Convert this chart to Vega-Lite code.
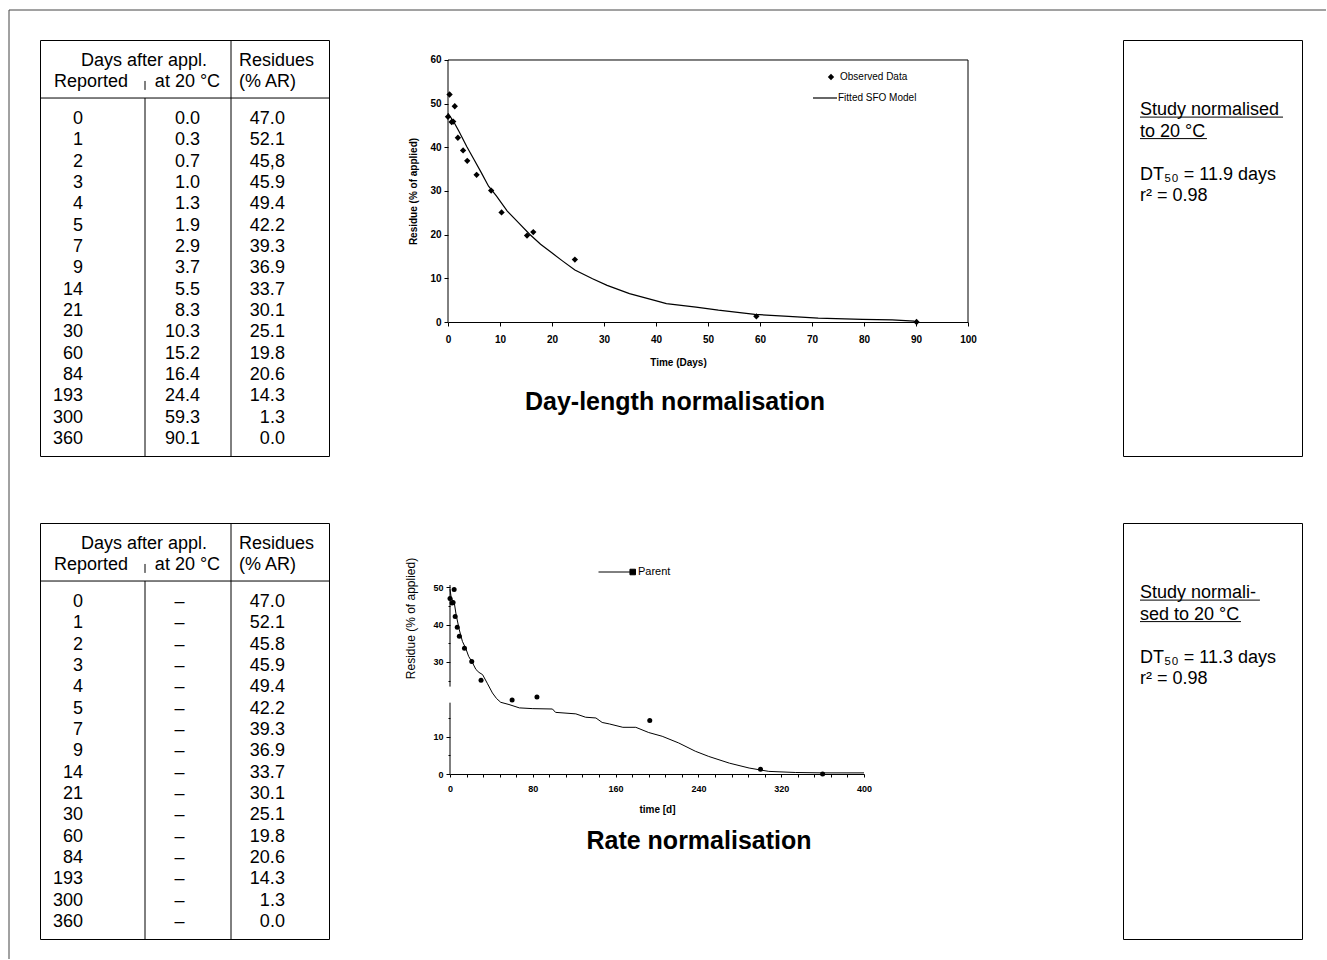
{
"$schema": "https://vega.github.io/schema/vega-lite/v6.json",
"padding": {"left": 8, "top": 9, "right": 0, "bottom": 0},
"background": "white",
"datasets": {
"table1": [
{"row":0,"rep":"0","t20":"0.0","res":"47.0"},
{"row":1,"rep":"1","t20":"0.3","res":"52.1"},
{"row":2,"rep":"2","t20":"0.7","res":"45,8"},
{"row":3,"rep":"3","t20":"1.0","res":"45.9"},
{"row":4,"rep":"4","t20":"1.3","res":"49.4"},
{"row":5,"rep":"5","t20":"1.9","res":"42.2"},
{"row":6,"rep":"7","t20":"2.9","res":"39.3"},
{"row":7,"rep":"9","t20":"3.7","res":"36.9"},
{"row":8,"rep":"14","t20":"5.5","res":"33.7"},
{"row":9,"rep":"21","t20":"8.3","res":"30.1"},
{"row":10,"rep":"30","t20":"10.3","res":"25.1"},
{"row":11,"rep":"60","t20":"15.2","res":"19.8"},
{"row":12,"rep":"84","t20":"16.4","res":"20.6"},
{"row":13,"rep":"193","t20":"24.4","res":"14.3"},
{"row":14,"rep":"300","t20":"59.3","res":"1.3"},
{"row":15,"rep":"360","t20":"90.1","res":"0.0"}
],
"table2": [
{"row":0,"rep":"0","t20":"–","res":"47.0"},
{"row":1,"rep":"1","t20":"–","res":"52.1"},
{"row":2,"rep":"2","t20":"–","res":"45.8"},
{"row":3,"rep":"3","t20":"–","res":"45.9"},
{"row":4,"rep":"4","t20":"–","res":"49.4"},
{"row":5,"rep":"5","t20":"–","res":"42.2"},
{"row":6,"rep":"7","t20":"–","res":"39.3"},
{"row":7,"rep":"9","t20":"–","res":"36.9"},
{"row":8,"rep":"14","t20":"–","res":"33.7"},
{"row":9,"rep":"21","t20":"–","res":"30.1"},
{"row":10,"rep":"30","t20":"–","res":"25.1"},
{"row":11,"rep":"60","t20":"–","res":"19.8"},
{"row":12,"rep":"84","t20":"–","res":"20.6"},
{"row":13,"rep":"193","t20":"–","res":"14.3"},
{"row":14,"rep":"300","t20":"–","res":"1.3"},
{"row":15,"rep":"360","t20":"–","res":"0.0"}
],
"obs1": [
{"t":0.0,"r":47.0},{"t":0.3,"r":52.1},{"t":0.7,"r":45.8},{"t":1.0,"r":45.9},{"t":1.3,"r":49.4},{"t":1.9,"r":42.2},{"t":2.9,"r":39.3},{"t":3.7,"r":36.9},{"t":5.5,"r":33.7},{"t":8.3,"r":30.1},{"t":10.3,"r":25.1},{"t":15.2,"r":19.8},{"t":16.4,"r":20.6},{"t":24.4,"r":14.3},{"t":59.3,"r":1.3},{"t":90.1,"r":0.0}
],
"fit1": [
{"t":0,"r":47.8},{"t":1.07,"r":45.9},{"t":2.1,"r":43.7},{"t":3.6,"r":40.2},{"t":5,"r":37.2},{"t":6.4,"r":34.2},{"t":7.8,"r":31.1},{"t":9.3,"r":28.9},{"t":11.4,"r":25.4},{"t":13.5,"r":22.8},{"t":15.7,"r":20.1},{"t":17.8,"r":17.8},{"t":19.9,"r":15.9},{"t":22,"r":14},{"t":24.4,"r":11.9},{"t":27.8,"r":9.9},{"t":30.6,"r":8.4},{"t":34.9,"r":6.5},{"t":39.9,"r":4.9},{"t":42,"r":4.2},{"t":47.7,"r":3.4},{"t":52,"r":2.7},{"t":59,"r":1.75},{"t":65.5,"r":1.3},{"t":71.2,"r":0.9},{"t":79.7,"r":0.6},{"t":85.4,"r":0.5},{"t":89.7,"r":0.2}
],
"obs2": [
{"t":0,"r":47.0},{"t":1,"r":52.1},{"t":2,"r":45.8},{"t":3,"r":45.9},{"t":4,"r":49.4},{"t":5,"r":42.2},{"t":7,"r":39.3},{"t":9,"r":36.9},{"t":14,"r":33.7},{"t":21,"r":30.1},{"t":30,"r":25.1},{"t":60,"r":19.8},{"t":84,"r":20.6},{"t":193,"r":14.3},{"t":300,"r":1.3},{"t":360,"r":0.0}
],
"fit2": [
{"t":0,"r":49.5},{"t":1,"r":47.5},{"t":2,"r":46.8},{"t":4.2,"r":45.7},{"t":6,"r":42.5},{"t":9,"r":38.6},{"t":12,"r":35.5},{"t":15.4,"r":33.5},{"t":18,"r":31.5},{"t":21.9,"r":29.7},{"t":25,"r":28},{"t":28,"r":27.2},{"t":31.5,"r":26.6},{"t":36,"r":24.3},{"t":41,"r":21.7},{"t":45,"r":20.2},{"t":49,"r":19.2},{"t":57,"r":18.6},{"t":67,"r":17.7},{"t":80,"r":17.5},{"t":99,"r":17.4},{"t":102,"r":16.5},{"t":121.6,"r":16.1},{"t":131,"r":15.2},{"t":141,"r":15},{"t":147,"r":13.8},{"t":154,"r":13.4},{"t":167,"r":12.5},{"t":179.5,"r":12.5},{"t":192,"r":11.1},{"t":205,"r":10.1},{"t":221,"r":8.3},{"t":237,"r":6.1},{"t":250,"r":4.7},{"t":270,"r":2.9},{"t":289,"r":1.6},{"t":308,"r":0.7},{"t":334,"r":0.4},{"t":360,"r":0.3},{"t":400,"r":0.3}
],
"box1": [{"line":0,"text":"Study normalised"},{"line":1,"text":"to 20 °C"},{"line":3,"text":"DT₅₀ = 11.9 days"},{"line":4,"text":"r² = 0.98"}],
"box2": [{"line":0,"text":"Study normali-"},{"line":1,"text":"sed to 20 °C"},{"line":3,"text":"DT₅₀ = 11.3 days"},{"line":4,"text":"r² = 0.98"}]
},
"bounds": "flush",
"spacing": -1,
"resolve": {"scale": {"color": "independent", "shape": "independent"}, "legend": {"color": "independent", "shape": "independent"}},
"vconcat": [
{"width": 1, "height": 1,
 "layer": [
 {"data":{"values":[{}]},"mark":{"type":"rule","color":"#444","strokeWidth":1},"encoding":{"x":{"datum":-31,"type":"quantitative","scale":{"type":"linear","domain":[0,1],"range":[0,1],"nice":false,"zero":false},"axis":null},"x2":{"datum":1286},"y":{"datum":-29,"type":"quantitative","scale":{"type":"linear","domain":[0,1],"range":[0,1],"nice":false,"zero":false},"axis":null}}},
 {"data":{"values":[{}]},"mark":{"type":"rule","color":"#444","strokeWidth":1},"encoding":{"x":{"datum":-31,"type":"quantitative"},"y":{"datum":-29,"type":"quantitative"},"y2":{"datum":920}}}
 ]},
{"resolve": {"scale": {"color": "independent", "shape": "independent"}, "legend": {"color": "independent", "shape": "independent"}},
 "spacing": 65,
 "vconcat": [
{"resolve": {"scale": {"color": "independent", "shape": "independent"}, "legend": {"color": "independent", "shape": "independent"}},
 "hconcat": [
{"width": 289, "height": 416, "view": {"stroke": "black", "strokeWidth": 1},
 "layer": [
 {"data":{"name":"table1"},"mark":{"type":"text","align":"right","baseline":"middle","fontSize":18},"encoding":{"x":{"datum":0.41,"type":"quantitative","scale":{"type":"linear","domain":[0,1,2,3],"range":[0,105,191,289],"nice":false,"zero":false},"axis":null},"y":{"field":"row","type":"quantitative","scale":{"type":"linear","domain":[-3.70,15.80],"range":[0,416],"nice":false,"zero":false},"axis":null},"text":{"field":"rep"}}},
 {"data":{"name":"table1"},"mark":{"type":"text","align":"right","baseline":"middle","fontSize":18},"encoding":{"x":{"datum":1.64,"type":"quantitative"},"y":{"field":"row","type":"quantitative"},"text":{"field":"t20"}}},
 {"data":{"name":"table1"},"mark":{"type":"text","align":"right","baseline":"middle","fontSize":18},"encoding":{"x":{"datum":2.55,"type":"quantitative"},"y":{"field":"row","type":"quantitative"},"text":{"field":"res"}}},
 {"data":{"values":[{}]},"mark":{"type":"text","text":"Days after appl.","align":"center","baseline":"middle","fontSize":18},"encoding":{"x":{"datum":0.99,"type":"quantitative"},"y":{"datum":-2.72,"type":"quantitative"}}},
 {"data":{"values":[{}]},"mark":{"type":"text","text":"Reported","align":"center","baseline":"middle","fontSize":18},"encoding":{"x":{"datum":0.486,"type":"quantitative"},"y":{"datum":-1.73,"type":"quantitative"}}},
 {"data":{"values":[{}]},"mark":{"type":"text","text":"at 20 °C","align":"center","baseline":"middle","fontSize":18},"encoding":{"x":{"datum":1.494,"type":"quantitative"},"y":{"datum":-1.73,"type":"quantitative"}}},
 {"data":{"values":[{}]},"mark":{"type":"text","text":"Residues","align":"left","baseline":"middle","fontSize":18},"encoding":{"x":{"datum":2.082,"type":"quantitative"},"y":{"datum":-2.72,"type":"quantitative"}}},
 {"data":{"values":[{}]},"mark":{"type":"text","text":"(% AR)","align":"left","baseline":"middle","fontSize":18},"encoding":{"x":{"datum":2.082,"type":"quantitative"},"y":{"datum":-1.73,"type":"quantitative"}}},
 {"data":{"values":[{}]},"mark":{"type":"rule","color":"black"},"encoding":{"x":{"datum":0,"type":"quantitative"},"x2":{"datum":3},"y":{"datum":-0.98,"type":"quantitative"}}},
 {"data":{"values":[{}]},"mark":{"type":"rule","color":"black"},"encoding":{"x":{"datum":1,"type":"quantitative"},"y":{"datum":-0.98,"type":"quantitative"},"y2":{"datum":15.80}}},
 {"data":{"values":[{}]},"mark":{"type":"rule","color":"black"},"encoding":{"x":{"datum":2,"type":"quantitative"},"y":{"datum":-3.70,"type":"quantitative"},"y2":{"datum":15.80}}},
 {"data":{"values":[{}]},"mark":{"type":"rule","color":"black"},"encoding":{"x":{"datum":1,"type":"quantitative"},"y":{"datum":-1.78,"type":"quantitative"},"y2":{"datum":-1.36}}}
 ]},
{"resolve": {"scale": {"color": "independent", "shape": "independent"}, "legend": {"color": "independent", "shape": "independent"}},
 "hconcat": [
 {"width": 520, "height": 282,
  "title": {"text":"Day-length normalisation","orient":"bottom","anchor":"middle","fontSize":25,"fontWeight":"bold","dx":-33,"offset":23,"color":"black"},
  "layer": [
  {"data":{"name":"fit1"},"mark":{"type":"line","color":"black","strokeWidth":1.2},
   "encoding":{
    "x":{"field":"t","type":"quantitative","title":"Time (Days)","scale":{"domain":[0,100],"nice":false},
         "axis":{"values":[0,10,20,30,40,50,60,70,80,90,100],"tickCount":100,"format":"d","tickSize":4,"labelFontSize":10,"labelFontWeight":"bold","labelPadding":8,"titleFontSize":10,"titleFontWeight":"bold","titleX":230,"titleY":40,"titleBaseline":"middle","labelFlush":false,"labelOverlap":false}},
    "y":{"field":"r","type":"quantitative","title":"Residue (% of applied)","scale":{"domain":[0,64.58],"nice":false,"zero":true},
         "axis":{"values":[0,10,20,30,40,50,60],"tickCount":100,"format":"d","domain":false,"tickSize":4,"labelFontSize":10,"labelFontWeight":"bold","labelPadding":3,"titleFontSize":10,"titleFontWeight":"bold","titleX":-35,"titleY":151,"titleBaseline":"middle","labelOverlap":false}},
    "color":{"datum":"Fitted SFO Model","type":"nominal","scale":{"range":["black"]},
         "legend":{"orient":"none","legendX":364,"legendY":45,"title":null,"symbolType":"stroke","symbolSize":576,"symbolStrokeWidth":1.2,"symbolStrokeColor":"black","labelFontSize":10,"labelOffset":0,"labelColor":"black"}}
   }},
  {"data":{"name":"obs1"},"mark":{"type":"point","filled":true,"color":"black","size":40,"opacity":1},
   "encoding":{
    "x":{"field":"t","type":"quantitative","title":"Time (Days)"},
    "y":{"field":"r","type":"quantitative","title":"Residue (% of applied)"},
    "shape":{"datum":"Observed Data","type":"nominal","scale":{"range":["diamond"]},
         "legend":{"orient":"none","legendX":378,"legendY":32,"title":null,"symbolSize":40,"symbolFillColor":"black","symbolStrokeColor":"black","labelFontSize":10,"labelOffset":4,"labelColor":"black"}}
   }},
  {"data":{"values":[{}]},"mark":{"type":"rule","color":"black"},"encoding":{"x":{"datum":0,"type":"quantitative"},"x2":{"datum":100},"y":{"datum":60,"type":"quantitative"}}},
  {"data":{"values":[{}]},"mark":{"type":"rule","color":"black"},"encoding":{"x":{"datum":100,"type":"quantitative"},"y":{"datum":0,"type":"quantitative"},"y2":{"datum":60}}},
  {"data":{"values":[{}]},"mark":{"type":"rule","color":"black"},"encoding":{"x":{"datum":0,"type":"quantitative"},"y":{"datum":0,"type":"quantitative"},"y2":{"datum":60}}}
  ]},
 {"width": 179, "height": 416, "view": {"stroke": "black", "strokeWidth": 1},
  "layer": [
  {"data":{"name":"box1"},"mark":{"type":"text","align":"left","baseline":"middle","fontSize":18},"encoding":{"x":{"datum":0.95,"type":"quantitative","scale":{"type":"linear","domain":[0,10],"range":[0,179],"nice":false,"zero":false},"axis":null},"y":{"field":"line","type":"quantitative","scale":{"type":"linear","domain":[-3.256,16.093],"range":[0,416],"nice":false,"zero":false},"axis":null},"text":{"field":"text"}}},
  {"data":{"values":[{}]},"mark":{"type":"rule","color":"black"},"encoding":{"x":{"datum":0.95,"type":"quantitative"},"x2":{"datum":8.94},"y":{"datum":0.33,"type":"quantitative"}}},
  {"data":{"values":[{}]},"mark":{"type":"rule","color":"black"},"encoding":{"x":{"datum":0.95,"type":"quantitative"},"x2":{"datum":4.69},"y":{"datum":1.33,"type":"quantitative"}}}
  ]}
 ], "spacing": 145}
], "spacing": 78},
{"resolve": {"scale": {"color": "independent", "shape": "independent"}, "legend": {"color": "independent", "shape": "independent"}},
 "hconcat": [
{"width": 289, "height": 416, "view": {"stroke": "black", "strokeWidth": 1},
 "layer": [
 {"data":{"name":"table2"},"mark":{"type":"text","align":"right","baseline":"middle","fontSize":18},"encoding":{"x":{"datum":0.41,"type":"quantitative","scale":{"type":"linear","domain":[0,1,2,3],"range":[0,105,191,289],"nice":false,"zero":false},"axis":null},"y":{"field":"row","type":"quantitative","scale":{"type":"linear","domain":[-3.70,15.80],"range":[0,416],"nice":false,"zero":false},"axis":null},"text":{"field":"rep"}}},
 {"data":{"name":"table2"},"mark":{"type":"text","align":"center","baseline":"middle","fontSize":18},"encoding":{"x":{"datum":1.40,"type":"quantitative"},"y":{"field":"row","type":"quantitative"},"text":{"field":"t20"}}},
 {"data":{"name":"table2"},"mark":{"type":"text","align":"right","baseline":"middle","fontSize":18},"encoding":{"x":{"datum":2.55,"type":"quantitative"},"y":{"field":"row","type":"quantitative"},"text":{"field":"res"}}},
 {"data":{"values":[{}]},"mark":{"type":"text","text":"Days after appl.","align":"center","baseline":"middle","fontSize":18},"encoding":{"x":{"datum":0.99,"type":"quantitative"},"y":{"datum":-2.72,"type":"quantitative"}}},
 {"data":{"values":[{}]},"mark":{"type":"text","text":"Reported","align":"center","baseline":"middle","fontSize":18},"encoding":{"x":{"datum":0.486,"type":"quantitative"},"y":{"datum":-1.73,"type":"quantitative"}}},
 {"data":{"values":[{}]},"mark":{"type":"text","text":"at 20 °C","align":"center","baseline":"middle","fontSize":18},"encoding":{"x":{"datum":1.494,"type":"quantitative"},"y":{"datum":-1.73,"type":"quantitative"}}},
 {"data":{"values":[{}]},"mark":{"type":"text","text":"Residues","align":"left","baseline":"middle","fontSize":18},"encoding":{"x":{"datum":2.082,"type":"quantitative"},"y":{"datum":-2.72,"type":"quantitative"}}},
 {"data":{"values":[{}]},"mark":{"type":"text","text":"(% AR)","align":"left","baseline":"middle","fontSize":18},"encoding":{"x":{"datum":2.082,"type":"quantitative"},"y":{"datum":-1.73,"type":"quantitative"}}},
 {"data":{"values":[{}]},"mark":{"type":"rule","color":"black"},"encoding":{"x":{"datum":0,"type":"quantitative"},"x2":{"datum":3},"y":{"datum":-0.98,"type":"quantitative"}}},
 {"data":{"values":[{}]},"mark":{"type":"rule","color":"black"},"encoding":{"x":{"datum":1,"type":"quantitative"},"y":{"datum":-0.98,"type":"quantitative"},"y2":{"datum":15.80}}},
 {"data":{"values":[{}]},"mark":{"type":"rule","color":"black"},"encoding":{"x":{"datum":2,"type":"quantitative"},"y":{"datum":-3.70,"type":"quantitative"},"y2":{"datum":15.80}}},
 {"data":{"values":[{}]},"mark":{"type":"rule","color":"black"},"encoding":{"x":{"datum":1,"type":"quantitative"},"y":{"datum":-1.78,"type":"quantitative"},"y2":{"datum":-1.36}}}
 ]},
{"resolve": {"scale": {"color": "independent", "shape": "independent"}, "legend": {"color": "independent", "shape": "independent"}},
 "hconcat": [
 {"width": 414, "height": 251,
  "title": {"text":"Rate normalisation","orient":"bottom","anchor":"middle","fontSize":25,"fontWeight":"bold","dx":42,"offset":15,"color":"black"},
  "layer": [
  {"data":{"name":"fit2"},"mark":{"type":"line","color":"black","strokeWidth":1},
   "encoding":{
    "x":{"field":"t","type":"quantitative","title":"time [d]","scale":{"domain":[0,400],"nice":false},
         "axis":{"values":[0,16,32,48,64,80,96,112,128,144,160,176,192,208,224,240,256,272,288,304,320,336,352,368,384,400],"tickCount":100,"format":"d","labelExpr":"datum.value % 80 === 0 ? datum.label : ''","tickSize":3,"labelFontSize":9,"labelFontWeight":"bold","labelPadding":7,"titleFontSize":10,"titleFontWeight":"bold","titlePadding":11,"labelFlush":false,"labelOverlap":false}},
    "y":{"field":"r","type":"quantitative","title":"Residue (% of applied)","scale":{"domain":[0,67.2],"nice":false,"zero":true},
         "axis":{"values":[0,5,10,15,25,30,35,40,45,50],"tickCount":100,"format":"d","labelExpr":"datum.value % 10 === 0 ? datum.label : ''","domain":false,"tickSize":{"condition":{"test":"datum.value % 10 === 0","value":4},"value":2},"labelFontSize":9,"labelFontWeight":"bold","labelPadding":3,"titleFontSize":12,"titleFontWeight":"normal","titleX":-40,"titleY":95,"titleBaseline":"middle","labelOverlap":false}},
    "color":{"datum":"Parent","type":"nominal","scale":{"range":["black"]},
         "legend":{"orient":"none","legendX":148,"legendY":30,"title":null,"symbolType":"M-1,0H0.7M0.7,-0.15H1V0.15H0.7Z","symbolSize":1369,"symbolStrokeWidth":1,"symbolFillColor":"black","symbolStrokeColor":"black","labelFontSize":11,"labelOffset":2,"labelColor":"black"}}
   }},
  {"data":{"name":"obs2"},"transform":[{"filter":"datum.r <= 50.6"}],"mark":{"type":"circle","color":"black","size":25,"opacity":1},
   "encoding":{
    "x":{"field":"t","type":"quantitative","title":"time [d]"},
    "y":{"field":"r","type":"quantitative","title":"Residue (% of applied)"}
   }},
  {"data":{"values":[{}]},"mark":{"type":"rule","color":"black"},"encoding":{"x":{"datum":0,"type":"quantitative"},"y":{"datum":0,"type":"quantitative"},"y2":{"datum":19.1}}},
  {"data":{"values":[{}]},"mark":{"type":"rule","color":"black"},"encoding":{"x":{"datum":0,"type":"quantitative"},"y":{"datum":23.4,"type":"quantitative"},"y2":{"datum":50.6}}}
  ]},
 {"width": 179, "height": 416, "view": {"stroke": "black", "strokeWidth": 1},
  "layer": [
  {"data":{"name":"box2"},"mark":{"type":"text","align":"left","baseline":"middle","fontSize":18},"encoding":{"x":{"datum":0.95,"type":"quantitative","scale":{"type":"linear","domain":[0,10],"range":[0,179],"nice":false,"zero":false},"axis":null},"y":{"field":"line","type":"quantitative","scale":{"type":"linear","domain":[-3.256,16.093],"range":[0,416],"nice":false,"zero":false},"axis":null},"text":{"field":"text"}}},
  {"data":{"values":[{}]},"mark":{"type":"rule","color":"black"},"encoding":{"x":{"datum":0.95,"type":"quantitative"},"x2":{"datum":7.65},"y":{"datum":0.33,"type":"quantitative"}}},
  {"data":{"values":[{}]},"mark":{"type":"rule","color":"black"},"encoding":{"x":{"datum":0.95,"type":"quantitative"},"x2":{"datum":6.59},"y":{"datum":1.33,"type":"quantitative"}}}
  ]}
 ], "spacing": 250}
], "spacing": 74}
]}
],
"config": {
 "font": "Liberation Sans",
 "view": {"stroke": null},
 "axis": {"domainColor":"black","tickColor":"black","labelColor":"black","titleColor":"black","grid":false,"domainWidth":1,"tickWidth":1,"labelFont":"Liberation Sans","titleFont":"Liberation Sans"},
 "legend": {"labelColor":"black","labelFont":"Liberation Sans"},
 "title": {"color":"black","font":"Liberation Sans"},
 "text": {"color":"black","font":"Liberation Sans"}
}
}
